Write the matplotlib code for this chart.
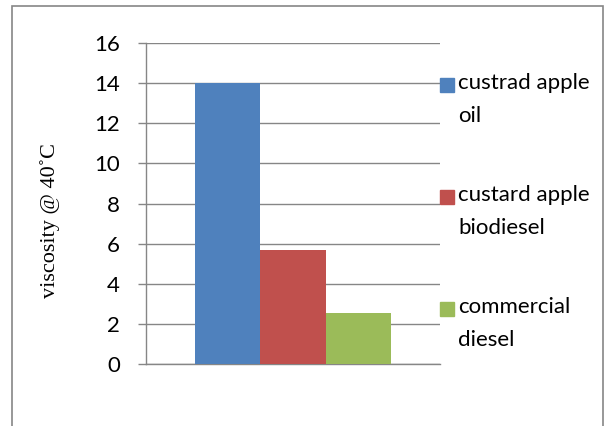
import matplotlib.pyplot as plt
import matplotlib.patches as mpatches
import numpy as np

# data
series = ["custrad apple\noil", "custard apple\nbiodiesel", "commercial\ndiesel"]
values = [14.0, 5.7, 2.55]
colors = ["#4F81BD", "#C0504D", "#9BBB59"]
yticks = [0, 2, 4, 6, 8, 10, 12, 14, 16]

grey = "#868686"
plt.rcParams['font.family'] = ['Lato', 'DejaVu Sans']

fig = plt.figure(figsize=(6.05, 4.26), dpi=100)
ax = fig.add_axes([146/605, 1-364/426, (440-146)/605, (364-43)/426])

# bars of one category, gap width 150%
w = 1/4.5
x = (np.arange(len(values)) - 1) * w
ax.bar(x, values, width=w, color=colors, zorder=3)

ax.set_xlim(-0.5, 0.5)
ax.set_ylim(0, 16)
ax.set_yticks(yticks)
ax.set_xticks([])
ax.tick_params(axis='y', length=5.8, width=1, color=grey, pad=13, labelsize=16)
ax.yaxis.grid(True, color=grey, linewidth=1, zorder=0)
for s in ['top', 'right']:
    ax.spines[s].set_visible(False)
for s in ['left', 'bottom']:
    ax.spines[s].set_color(grey)
    ax.spines[s].set_linewidth(1)

ax.set_ylabel("viscosity @ 40˚C", family=['Liberation Serif', 'DejaVu Serif'],
              fontsize=16)
ax.yaxis.set_label_coords(-86/294, (364-220)/321)

# legend drawn like Excel: square beside the first line
for i, (lab, c) in enumerate(zip(series, colors)):
    yc = 85 + i * 112
    fig.patches.append(mpatches.Rectangle((440/605, 1-(yc+7)/426), 14/605, 14/426,
                                          transform=fig.transFigure, color=c))
    fig.text(458/605, 1-(yc-12)/426, lab, fontsize=16, va='top', ha='left',
             linespacing=1.8)

# outer chart border
fig.patches.append(mpatches.Rectangle((12/605, -0.02), (603-12)/605, 1-6/426+0.02,
                                      transform=fig.transFigure, fill=False,
                                      edgecolor=grey, linewidth=1.2))

fig.savefig("out.png", dpi=100)
